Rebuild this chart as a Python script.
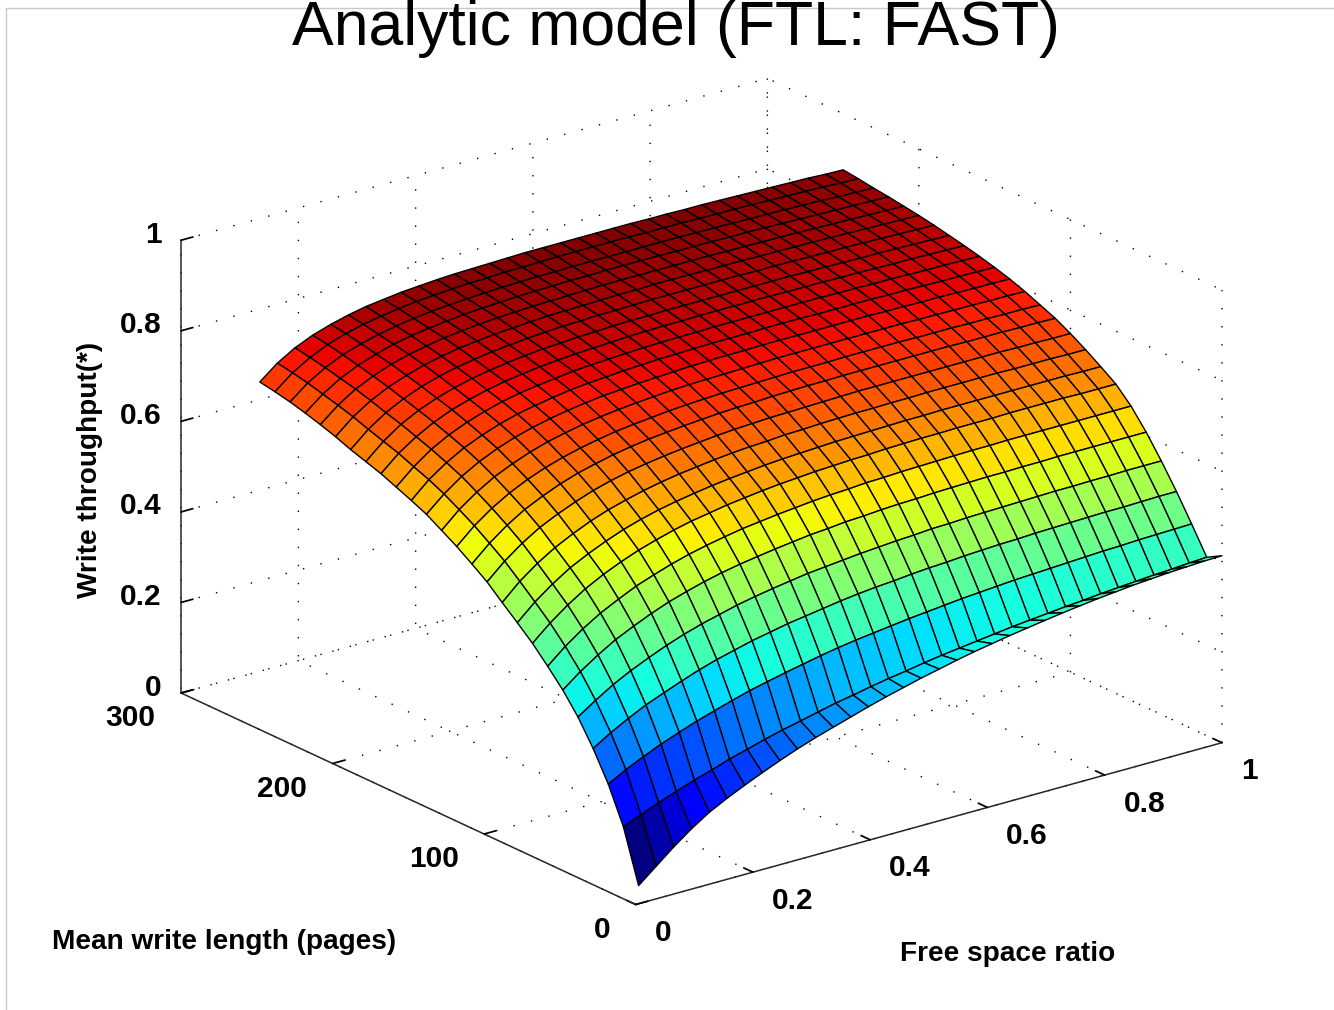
import numpy as np, matplotlib
matplotlib.use('Agg')
import matplotlib.pyplot as plt, seaborn as sns
from matplotlib.lines import Line2D
from matplotlib.transforms import Affine2D

sns.set_theme(style='white')
plt.rcParams['font.family'] = ['Liberation Sans', 'DejaVu Sans']

# Estimated values. The surface edges and some interior lines were read from
# the reference; the other interior cells come from a smooth curve fitted to
# those readings and then written out here.
free_space = [.005, .035, .065, .095, .126, .156, .186, .216, .246, .276, .307, .337,
              .367, .397, .427, .457, .487, .518, .548, .578, .608, .638, .668, .698,
              .729, .759, .789, .819, .849, .879, .910, .940, .970, 1.0]
write_length = [0, 10, 20, 30, 40, 50, 60, 70, 80, 90, 100, 110, 120, 130, 140, 150,
                160, 170, 180, 190, 200, 210, 220, 230, 240, 250]
# write throughput in thousandths, one row per write length, one column per free space ratio
throughput = [
    [40, 72, 104, 133, 159, 179, 197, 214, 230, 245, 259, 271, 283, 295, 306, 316, 326, 335, 344, 352, 359, 366, 372, 378, 384, 389, 394, 398, 402, 405, 408, 410, 412, 413],
    [154, 170, 186, 200, 214, 226, 239, 250, 261, 271, 280, 289, 298, 305, 313, 320, 326, 333, 339, 344, 349, 354, 359, 363, 367, 371, 374, 378, 381, 384, 387, 389, 392, 394],
    [233, 254, 272, 289, 304, 318, 330, 342, 353, 362, 371, 379, 387, 394, 400, 405, 410, 415, 419, 423, 427, 430, 433, 436, 438, 440, 442, 444, 446, 447, 449, 450, 451, 452],
    [296, 320, 341, 360, 376, 391, 405, 417, 427, 437, 445, 453, 459, 465, 471, 476, 480, 483, 487, 490, 492, 495, 497, 499, 500, 502, 503, 504, 505, 506, 506, 507, 508, 508],
    [350, 376, 400, 420, 438, 454, 468, 480, 490, 500, 508, 515, 521, 527, 531, 535, 539, 542, 545, 547, 550, 551, 553, 554, 555, 556, 557, 558, 558, 559, 559, 560, 560, 560],
    [394, 424, 450, 473, 492, 509, 524, 536, 547, 556, 564, 570, 576, 581, 586, 589, 593, 595, 598, 600, 601, 603, 604, 605, 606, 606, 607, 607, 608, 608, 608, 608, 608, 608],
    [431, 464, 492, 516, 536, 554, 568, 581, 592, 601, 609, 616, 621, 626, 630, 634, 637, 639, 642, 643, 645, 646, 647, 648, 649, 649, 650, 650, 650, 650, 650, 650, 650, 650],
    [466, 500, 529, 554, 575, 592, 607, 619, 630, 639, 646, 653, 658, 663, 667, 670, 673, 675, 677, 678, 680, 681, 682, 682, 683, 683, 683, 684, 684, 684, 684, 683, 683, 683],
    [496, 531, 560, 585, 605, 622, 637, 649, 659, 667, 674, 680, 685, 689, 693, 696, 698, 700, 702, 703, 704, 705, 706, 706, 707, 707, 707, 707, 707, 707, 707, 707, 706, 706],
    [525, 561, 590, 614, 634, 651, 665, 676, 686, 694, 701, 706, 711, 715, 718, 720, 723, 724, 726, 727, 728, 728, 729, 729, 730, 730, 730, 730, 730, 729, 729, 729, 728, 728],
    [555, 590, 619, 643, 662, 678, 692, 703, 712, 719, 725, 730, 734, 738, 741, 743, 745, 746, 747, 748, 749, 750, 750, 750, 750, 750, 750, 750, 750, 750, 749, 749, 748, 748],
    [579, 614, 643, 667, 686, 702, 715, 725, 734, 741, 747, 751, 755, 758, 761, 763, 764, 766, 767, 768, 768, 769, 769, 769, 769, 769, 769, 769, 768, 768, 768, 767, 767, 766],
    [602, 637, 665, 688, 707, 722, 734, 744, 752, 759, 764, 768, 772, 775, 777, 779, 780, 781, 782, 783, 783, 783, 784, 784, 784, 784, 783, 783, 783, 782, 782, 781, 781, 780],
    [622, 657, 685, 708, 726, 741, 753, 762, 770, 776, 781, 785, 788, 791, 793, 794, 795, 796, 797, 798, 798, 798, 798, 798, 798, 798, 798, 797, 797, 796, 796, 795, 795, 794],
    [642, 676, 704, 726, 744, 758, 769, 778, 785, 791, 796, 799, 802, 804, 806, 808, 809, 810, 810, 811, 811, 811, 811, 811, 811, 811, 810, 810, 809, 809, 808, 807, 807, 806],
    [657, 692, 719, 741, 758, 772, 783, 791, 798, 804, 808, 811, 814, 816, 818, 819, 820, 821, 821, 821, 822, 822, 822, 821, 821, 821, 821, 820, 820, 819, 818, 818, 817, 816],
    [671, 705, 733, 754, 771, 784, 795, 803, 809, 814, 819, 822, 824, 826, 828, 829, 830, 830, 831, 831, 831, 831, 831, 831, 831, 830, 830, 829, 829, 828, 827, 827, 826, 825],
    [685, 719, 745, 766, 783, 795, 805, 813, 819, 824, 828, 831, 833, 835, 837, 838, 839, 839, 840, 840, 840, 840, 840, 839, 839, 839, 838, 838, 837, 836, 836, 835, 834, 833],
    [696, 730, 757, 777, 793, 805, 815, 822, 828, 833, 837, 839, 842, 843, 845, 846, 846, 847, 847, 847, 847, 847, 847, 847, 847, 846, 846, 845, 844, 844, 843, 842, 841, 840],
    [707, 741, 767, 787, 803, 815, 824, 831, 837, 841, 845, 848, 850, 851, 853, 853, 854, 855, 855, 855, 855, 855, 855, 854, 854, 854, 853, 852, 852, 851, 850, 849, 848, 847],
    [720, 753, 778, 797, 812, 824, 833, 840, 845, 849, 852, 855, 857, 858, 859, 860, 861, 861, 862, 862, 862, 861, 861, 861, 860, 860, 859, 859, 858, 857, 856, 855, 854, 853],
    [731, 763, 788, 806, 821, 832, 840, 847, 852, 856, 859, 861, 863, 864, 865, 866, 867, 867, 867, 867, 867, 867, 867, 866, 866, 865, 865, 864, 863, 862, 861, 860, 859, 858],
    [741, 772, 796, 814, 828, 839, 847, 853, 858, 862, 865, 867, 869, 870, 871, 872, 872, 873, 873, 873, 873, 872, 872, 872, 871, 871, 870, 869, 868, 867, 866, 865, 864, 863],
    [750, 781, 804, 822, 835, 845, 853, 859, 864, 867, 870, 872, 874, 875, 876, 876, 877, 877, 877, 877, 877, 877, 877, 876, 876, 875, 874, 874, 873, 872, 871, 869, 868, 867],
    [757, 788, 811, 829, 842, 852, 859, 865, 870, 873, 876, 878, 879, 881, 881, 882, 883, 883, 883, 883, 883, 882, 882, 882, 881, 880, 880, 879, 878, 877, 876, 875, 873, 872],
    [763, 794, 817, 834, 847, 857, 865, 870, 875, 878, 881, 883, 884, 885, 886, 887, 887, 887, 887, 887, 887, 887, 886, 886, 885, 885, 884, 883, 882, 881, 880, 879, 877, 876],
]
x_ticks = [0, .2, .4, .6, .8, 1]
y_ticks = [0, 100, 200, 300]
z_ticks = [0, .2, .4, .6, .8, 1]
x_labels = ['0', '0.2', '0.4', '0.6', '0.8', '1']
y_labels = ['0', '100', '200', '300']
z_labels = ['0', '0.2', '0.4', '0.6', '0.8', '1']

Z = np.array(throughput) / 1000
XX, YY = np.meshgrid(free_space, write_length)
cmap = matplotlib.colormaps['jet']
norm = plt.Normalize(.04, .885)

W, H = 1334, 1010
fig = plt.figure(figsize=(W / 100, H / 100), dpi=100, facecolor='white')
ax = fig.add_axes([16.5 / W, -166.5 / H, 1, W / H], projection='3d', proj_type='ortho')
ax.view_init(elev=21, azim=-127.6)
ax.set_box_aspect((740, 745, 485), zoom=.8417)
ax.plot_surface(XX, YY, Z, facecolors=cmap(norm(Z)), edgecolor='black', linewidth=1.0,
                rstride=1, cstride=1, shade=False, antialiased=True)
ax.set_xlim(0, 1); ax.set_ylim(0, 300); ax.set_zlim(0, 1)
ax.set_xticks(x_ticks, x_labels)
ax.set_yticks(y_ticks, y_labels)
ax.set_zticks(z_ticks, z_labels)
for a in (ax.xaxis, ax.yaxis, ax.zaxis):
    a.set_pane_color((1, 1, 1, 0)); a.pane.set_edgecolor('none')
    a._axinfo['grid'].update(color='black', linewidth=1, linestyle=(0, (1, 12)))
    a._axinfo['tick'].update(inward_factor=0, outward_factor=.25)
    a._axinfo['axisline']['color'] = (.25, .25, .25, 1)
    a.line.set_linewidth(1.1)
ax.tick_params(labelsize=21.5, colors='black', pad=6)
for t in ax.get_xticklabels(): t.set_fontweight('bold'); t.set_ha('left')
for t in ax.get_yticklabels(): t.set_fontweight('bold'); t.set_ha('right')
for t in ax.get_zticklabels(): t.set_fontweight('bold'); t.set_ha('right')
ax.zaxis.set_ticks_position('upper')


def nudge(axis, dx, dy):
    original = axis.get_major_ticks
    def patched(numticks=None):
        ticks = original(numticks)
        for t in ticks:
            t.label1.set_transform(ax.transData + Affine2D().translate(dx, dy))
        return ticks
    axis.get_major_ticks = patched


nudge(ax.xaxis, 6, 4)
nudge(ax.yaxis, -9, 6)
nudge(ax.zaxis, 10, 18)

fig.text(676 / W, 1 - 45 / H, 'Analytic model (FTL: FAST)', fontsize=45, ha='center', va='baseline', color='black')
for s, x, y, r in [('Mean write length (pages)', 224, 942, 0), ('Free space ratio', 1008, 954, 0), ('Write throughput(*)', 90, 470, 90)]:
    fig.text(x / W, 1 - y / H, s, fontsize=20.2, fontweight='bold', rotation=r, ha='center', va='center', color='black')
fig.add_artist(Line2D([6 / W, 6 / W], [0, 1 - 8 / H], color='#c8c8c8', lw=1))
fig.add_artist(Line2D([6 / W, 1], [1 - 8 / H, 1 - 8 / H], color='#c8c8c8', lw=1))
fig.savefig('out.png', dpi=100)
